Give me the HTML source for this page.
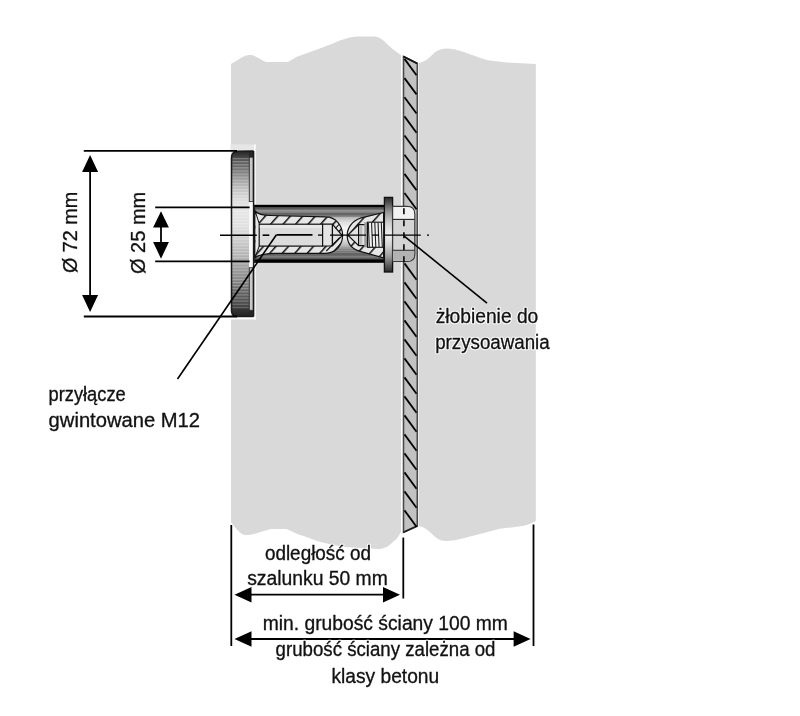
<!DOCTYPE html>
<html><head><meta charset="utf-8">
<style>
html,body{margin:0;padding:0;background:#fff;width:800px;height:716px;overflow:hidden}
svg{display:block;filter:grayscale(1)}
text{font-family:"Liberation Sans",sans-serif;font-size:19.5px;fill:#111;stroke:#111;stroke-width:0.3px;stroke-linejoin:round}
text.h{fill:none;stroke:#fcfcfc;stroke-width:2.5px}
</style></head><body>
<svg width="800" height="716" viewBox="0 0 800 716">
<defs>
<linearGradient id="rosG" gradientUnits="userSpaceOnUse" x1="0" y1="151" x2="0" y2="316.6">
<stop offset="0" stop-color="#222"/>
<stop offset="0.054" stop-color="#555"/>
<stop offset="0.115" stop-color="#777"/>
<stop offset="0.172" stop-color="#a0a0a0"/>
<stop offset="0.23" stop-color="#c2c2c2"/>
<stop offset="0.29" stop-color="#dadada"/>
<stop offset="0.35" stop-color="#e6e6e6"/>
<stop offset="0.45" stop-color="#e0e0e0"/>
<stop offset="0.54" stop-color="#ccc"/>
<stop offset="0.6" stop-color="#bbb"/>
<stop offset="0.66" stop-color="#aaa"/>
<stop offset="0.72" stop-color="#999"/>
<stop offset="0.78" stop-color="#888"/>
<stop offset="0.84" stop-color="#666"/>
<stop offset="0.9" stop-color="#555"/>
<stop offset="0.96" stop-color="#333"/>
<stop offset="1" stop-color="#222"/>
</linearGradient>
<linearGradient id="tubeG" gradientUnits="userSpaceOnUse" x1="0" y1="205" x2="0" y2="262.5">
<stop offset="0" stop-color="#000"/>
<stop offset="0.035" stop-color="#000"/>
<stop offset="0.04" stop-color="#555"/>
<stop offset="0.06" stop-color="#5a5a5a"/>
<stop offset="0.09" stop-color="#999"/>
<stop offset="0.12" stop-color="#9a9a9a"/>
<stop offset="0.15" stop-color="#666"/>
<stop offset="0.18" stop-color="#777"/>
<stop offset="0.22" stop-color="#bbb"/>
<stop offset="0.3" stop-color="#e0e0e0"/>
<stop offset="0.4" stop-color="#f4f4f4"/>
<stop offset="0.55" stop-color="#f0f0f0"/>
<stop offset="0.68" stop-color="#c4c4c4"/>
<stop offset="0.76" stop-color="#999"/>
<stop offset="0.82" stop-color="#8a8a8a"/>
<stop offset="0.86" stop-color="#666"/>
<stop offset="0.9" stop-color="#8a8a8a"/>
<stop offset="0.94" stop-color="#555"/>
<stop offset="0.955" stop-color="#000"/>
<stop offset="1" stop-color="#000"/>
</linearGradient>
<linearGradient id="flG" x1="0" y1="0" x2="0" y2="1">
<stop offset="0" stop-color="#2a2a2a"/>
<stop offset="0.08" stop-color="#555"/>
<stop offset="0.2" stop-color="#999"/>
<stop offset="0.35" stop-color="#d0d0d0"/>
<stop offset="0.5" stop-color="#f0f0f0"/>
<stop offset="0.65" stop-color="#d0d0d0"/>
<stop offset="0.8" stop-color="#999"/>
<stop offset="0.92" stop-color="#555"/>
<stop offset="1" stop-color="#2a2a2a"/>
</linearGradient>
<pattern id="stripe" width="4" height="2.2" patternUnits="userSpaceOnUse" y="207">
<rect width="4" height="1" fill="#000" fill-opacity="0.16"/>
</pattern>
<pattern id="knurl" width="4" height="3.1" patternUnits="userSpaceOnUse" y="158">
<rect width="4" height="1.1" fill="#fff" fill-opacity="0.28"/>
</pattern>
<pattern id="ins" width="9.35" height="12" patternUnits="userSpaceOnUse" patternTransform="translate(6,0) rotate(41.6)">
<rect width="9.35" height="12" fill="#e6e6e6"/>
<rect width="1.5" height="12" fill="#111"/>
</pattern>
</defs>

<path fill="#d9d9d9" d="M231,64 C238,60 244,55 250,55 C256,55 260,60 266,62 L288,62 C292,60 295,57 299,56 L324,47 C335,43 346,37 357,36.6 L374,36.6 C380,37 383,40 386,43 C391,48 396,52 401,55 L401,532 C398,537 396,540 394,541 C388,547 384,549 378,549 L344,547 C332,545 325,543 317,541 C311,539 305,536 300,535 C292,532 290,530 286,529 L271,529 C262,531 255,535 246,535 C240,535 235,527 231,522 Z"/>
<path fill="#d9d9d9" d="M419,63 C423,62 427,60 431,56 C434,53 437,49 446,48.4 C452,48.4 458,50 464,52 C472,55 482,59 490,60.6 L507,62.4 L535.8,64 L535.8,521 C532,523 528,525 525,525.4 C516,527 506,528 499,529 C490,531 481,534 472,536 C464,538 454,541 446,541 C440,541 436,538 432,534 C428,530 424,527 419,526 Z"/>
<path fill="#c2c2c2" stroke="#4a4a4a" stroke-width="1.6" d="M403.5,56.5 L417.3,63.5 L417.3,526 L403.5,532.3 Z"/>
<line x1="403.5" y1="56.5" x2="417.3" y2="63.5" stroke="#111" stroke-width="1.8"/>
<line x1="403.5" y1="532.3" x2="417.3" y2="526" stroke="#222" stroke-width="1.6"/>
<g stroke="#000" stroke-width="1.8"><line x1="404.5" y1="58.9" x2="416.5" y2="75.2"/><line x1="404.5" y1="78.1" x2="416.5" y2="94.4"/><line x1="404.5" y1="97.2" x2="416.5" y2="113.5"/><line x1="404.5" y1="116.4" x2="416.5" y2="132.7"/><line x1="404.5" y1="135.5" x2="416.5" y2="151.8"/><line x1="404.5" y1="154.7" x2="416.5" y2="171.0"/><line x1="404.5" y1="173.9" x2="416.5" y2="190.2"/><line x1="404.5" y1="193.0" x2="416.5" y2="209.3"/><line x1="404.5" y1="263.4" x2="416.5" y2="279.7"/><line x1="404.5" y1="282.4" x2="416.5" y2="298.7"/><line x1="404.5" y1="301.4" x2="416.5" y2="317.7"/><line x1="404.5" y1="320.4" x2="416.5" y2="336.7"/><line x1="404.5" y1="339.4" x2="416.5" y2="355.7"/><line x1="404.5" y1="358.4" x2="416.5" y2="374.7"/><line x1="404.5" y1="377.4" x2="416.5" y2="393.7"/><line x1="404.5" y1="396.4" x2="416.5" y2="412.7"/><line x1="404.5" y1="415.4" x2="416.5" y2="431.7"/><line x1="404.5" y1="434.4" x2="416.5" y2="450.7"/><line x1="404.5" y1="453.4" x2="416.5" y2="469.7"/><line x1="404.5" y1="472.4" x2="416.5" y2="488.7"/><line x1="404.5" y1="491.4" x2="416.5" y2="507.7"/><line x1="404.5" y1="510.4" x2="416.5" y2="526.7"/></g>
<rect x="230.5" y="144.4" width="25" height="6.5" fill="#e6e6e6"/>
<rect x="230.5" y="316.6" width="25" height="2.8" fill="#ffffff"/>
<line x1="254.9" y1="144.4" x2="254.9" y2="319.4" stroke="#fff" stroke-width="1.6"/>
<path fill="url(#rosG)" d="M231.5,158 Q231.5,151.5 238,151.3 L253.6,151 L253.6,316.6 L237.5,316.6 Q231.5,316.5 231.5,310.5 Z"/>
<rect x="232.3" y="158" width="16.5" height="152" fill="url(#knurl)"/>
<rect x="249" y="151.5" width="4.4" height="6" fill="#262626"/>
<rect x="249" y="310" width="4.4" height="6.4" fill="#262626"/>
<rect x="249" y="201.5" width="4.2" height="66.3" fill="#f8f8f8"/>
<rect x="249.3" y="157.2" width="3.9" height="44.4" fill="#c9c9c9" stroke="#333" stroke-width="0.9"/>
<rect x="249.3" y="267.7" width="3.9" height="42.6" fill="#c9c9c9" stroke="#333" stroke-width="0.9"/>
<path fill="none" stroke="#1a1a1a" stroke-width="1.5" d="M253.6,151 L253.6,316.6 M231.5,158 Q231.5,151.5 238,151.3 L253.6,151 M231.5,158 L231.5,310.5 Q231.5,316.5 237.5,316.6 L253.6,316.6"/>
<rect x="254" y="204.8" width="130.6" height="58" fill="url(#tubeG)"/>
<rect x="254" y="207.2" width="130.6" height="10" fill="url(#stripe)"/>
<rect x="254" y="247.5" width="130.6" height="13" fill="url(#stripe)"/>
<line x1="254.6" y1="206" x2="254.6" y2="262" stroke="#222" stroke-width="1.2"/>
<path fill="url(#ins)" stroke="#111" stroke-width="1.2" d="M255,211 Q259,215.3 270,215.5 L325.6,216.8 C336,216.8 342.6,226 342.6,235.3 C342.6,245 336,253.3 325.6,253.3 L275,253.3 Q261,253.5 255,257.5 Z"/>
<path fill="#e8e8e8" d="M255.6,214 L259.2,223.6 L259.2,246.2 L255.6,255 Z"/>
<path fill="none" stroke="#111" stroke-width="1" d="M255.3,211.5 L259.2,223.6 M259.2,246.2 L255.3,256.8"/>
<rect x="259.2" y="224.2" width="63.4" height="21.9" fill="#dcdcdc" stroke="#111" stroke-width="1.2"/>
<rect x="259.8" y="225" width="62.2" height="3" fill="#e8e8e8"/>
<line x1="323.4" y1="224.5" x2="323.4" y2="245.9" stroke="#555" stroke-width="0.8"/>
<path fill="#e4e4e4" stroke="#111" stroke-width="1.2" d="M322.6,224.2 L332.4,224.2 L342.2,235.6 L332.4,246 L322.6,246 Z"/>
<line x1="332.4" y1="224.2" x2="332.4" y2="246" stroke="#111" stroke-width="1.3"/>
<path fill="none" stroke="#111" stroke-width="1.1" d="M326.3,251 L339.9,237.4 M335.4,228.4 L339,224.5"/>
<path fill="url(#ins)" stroke="#111" stroke-width="1.2" d="M383.6,212.5 L360.2,218.2 C352,221 347.2,228 347.2,235.2 C347.2,243 352,249 360.2,251.4 L383.6,257.9 Z"/>
<path fill="#e2e2e2" stroke="#111" stroke-width="1.2" d="M348,235.2 L358.6,224.6 L367.5,224.6 L367.5,245.7 L358.6,245.7 Z"/>
<line x1="358.6" y1="224.6" x2="358.6" y2="245.7" stroke="#111" stroke-width="1.2"/>
<rect x="360" y="225.4" width="2.2" height="19.5" fill="#bdbdbd"/>
<rect x="364.3" y="222.2" width="4" height="25.1" fill="#9a9a9a"/>
<rect x="367.5" y="222.2" width="16.2" height="25.1" fill="#f0f0f0" stroke="#111" stroke-width="1.1"/>
<g stroke="#222" stroke-width="1.1"><line x1="368.30" y1="222.5" x2="369.30" y2="247" /><line x1="371.55" y1="222.5" x2="372.55" y2="247" /><line x1="374.80" y1="222.5" x2="375.80" y2="247" /><line x1="378.05" y1="222.5" x2="379.05" y2="247" /><line x1="381.30" y1="222.5" x2="382.30" y2="247" /></g>
<rect x="384.4" y="197.4" width="8.2" height="74.6" fill="url(#flG)" stroke="#111" stroke-width="1.3"/>
<path fill="#d4d4d4" stroke="#3a3a3a" stroke-width="1.2" d="M392.6,206.4 L407,206.4 Q414.8,206.4 414.8,214.2 L414.8,254 Q414.8,261.5 407.5,261.5 L392.6,261.5 Z"/>
<path fill="#f2f2f2" d="M393.6,207.1 L407,207.1 Q414.1,207.1 414.1,214.2 L414.1,218.9 L393.6,218.9 Z"/>
<path fill="#b2b2b2" d="M393.6,250.8 L414.1,250.8 L414.1,254 Q414.1,260.8 407.5,260.8 L393.6,260.8 Z"/>
<line x1="393" y1="219.4" x2="414.5" y2="219.4" stroke="#222" stroke-width="1.1"/>
<line x1="393" y1="250.3" x2="414.5" y2="250.3" stroke="#333" stroke-width="1.1"/>
<line x1="403.9" y1="208.2" x2="403.9" y2="262.3" stroke="#111" stroke-width="1.7" stroke-dasharray="6,6"/>
<g stroke="#000" stroke-width="1.6">
<line x1="220" y1="235.3" x2="256.8" y2="235.3"/>
<line x1="262.6" y1="235.2" x2="269.3" y2="235.2"/>
<line x1="318" y1="235.1" x2="322.5" y2="235.1" stroke-width="1.3"/>
<line x1="330" y1="235.1" x2="366" y2="235.1" stroke-width="1.2"/>
<line x1="372" y1="235.1" x2="379" y2="235.1" stroke-width="1.3"/>
<line x1="384" y1="235.1" x2="420.8" y2="235.1" stroke-width="1.3"/>
<line x1="427" y1="235.1" x2="429" y2="235.1" stroke-width="1.3"/>
</g>
<line x1="276.6" y1="234.9" x2="312.5" y2="234.9" stroke="#000" stroke-width="1.7"/>
<g stroke="#000" stroke-width="1.8" fill="none">
<line x1="83.8" y1="150.9" x2="237" y2="150.9"/>
<line x1="83.8" y1="316.5" x2="237" y2="316.5"/>
<line x1="90.1" y1="165" x2="90.1" y2="300"/>
<line x1="155.2" y1="207.3" x2="249.6" y2="207.3"/>
<line x1="155.2" y1="261.3" x2="249.6" y2="261.3"/>
<line x1="161" y1="225" x2="161" y2="245"/>
<line x1="231.3" y1="525" x2="231.3" y2="646"/>
<line x1="403.3" y1="537.6" x2="403.3" y2="598.5"/>
<line x1="533.5" y1="524.5" x2="533.5" y2="646"/>
<line x1="245" y1="594.7" x2="390" y2="594.7"/>
<line x1="245" y1="639" x2="520" y2="639"/>
</g>
<g fill="#000">
<path d="M90.1,155.1 L82.1,172.1 L98.1,172.1 Z"/>
<path d="M90.1,311.9 L82.1,294.9 L98.1,294.9 Z"/>
<path d="M161,211.2 L153.1,227.39999999999998 L168.9,227.39999999999998 Z"/>
<path d="M161,258.7 L153.1,242.0 L168.9,242.0 Z"/>
<path d="M234.5,594.7 L251.5,586.95 L251.5,602.45 Z"/>
<path d="M400,594.7 L383,586.95 L383,602.45 Z"/>
<path d="M234.5,639 L251.5,631.25 L251.5,646.75 Z"/>
<path d="M530.6,639 L513.6,631.25 L513.6,646.75 Z"/>
</g>
<g stroke="#000" stroke-width="1.6">
<line x1="276.4" y1="234.7" x2="177.5" y2="379"/>
<line x1="403.9" y1="235.8" x2="487" y2="303.2"/>
</g>
<text class="h" transform="translate(48.50,401.4) scale(0.9376,1)">przyłącze</text>
<text class="h" transform="translate(48.62,427.4) scale(1.0352,1)">gwintowane M12</text>
<text class="h" transform="translate(435.70,323) scale(0.9858,1)">żłobienie do</text>
<text class="h" transform="translate(435.17,349.2) scale(0.9615,1)">przysoawania</text>
<text class="h" transform="translate(264.88,559.6) scale(0.9704,1)">odległość od</text>
<text class="h" transform="translate(247.14,585.3) scale(0.9908,1)">szalunku 50 mm</text>
<text class="h" transform="translate(262.70,630) scale(0.9889,1)">min. grubość ściany 100 mm</text>
<text class="h" transform="translate(275.62,655.8) scale(0.9572,1)">grubość ściany zależna od</text>
<text class="h" transform="translate(331.50,683) scale(0.9844,1)">klasy betonu</text>
<text class="h" transform="translate(76.5,273.01) rotate(-90) scale(1.0130,1)">Ø 72 mm</text>
<text class="h" transform="translate(144.8,274.02) rotate(-90) scale(1.0259,1)">Ø 25 mm</text>
<text transform="translate(48.50,401.4) scale(0.9376,1)">przyłącze</text>
<text transform="translate(48.62,427.4) scale(1.0352,1)">gwintowane M12</text>
<text transform="translate(435.70,323) scale(0.9858,1)">żłobienie do</text>
<text transform="translate(435.17,349.2) scale(0.9615,1)">przysoawania</text>
<text transform="translate(264.88,559.6) scale(0.9704,1)">odległość od</text>
<text transform="translate(247.14,585.3) scale(0.9908,1)">szalunku 50 mm</text>
<text transform="translate(262.70,630) scale(0.9889,1)">min. grubość ściany 100 mm</text>
<text transform="translate(275.62,655.8) scale(0.9572,1)">grubość ściany zależna od</text>
<text transform="translate(331.50,683) scale(0.9844,1)">klasy betonu</text>
<text transform="translate(76.5,273.01) rotate(-90) scale(1.0130,1)">Ø 72 mm</text>
<text transform="translate(144.8,274.02) rotate(-90) scale(1.0259,1)">Ø 25 mm</text>
</svg>
</body></html>
